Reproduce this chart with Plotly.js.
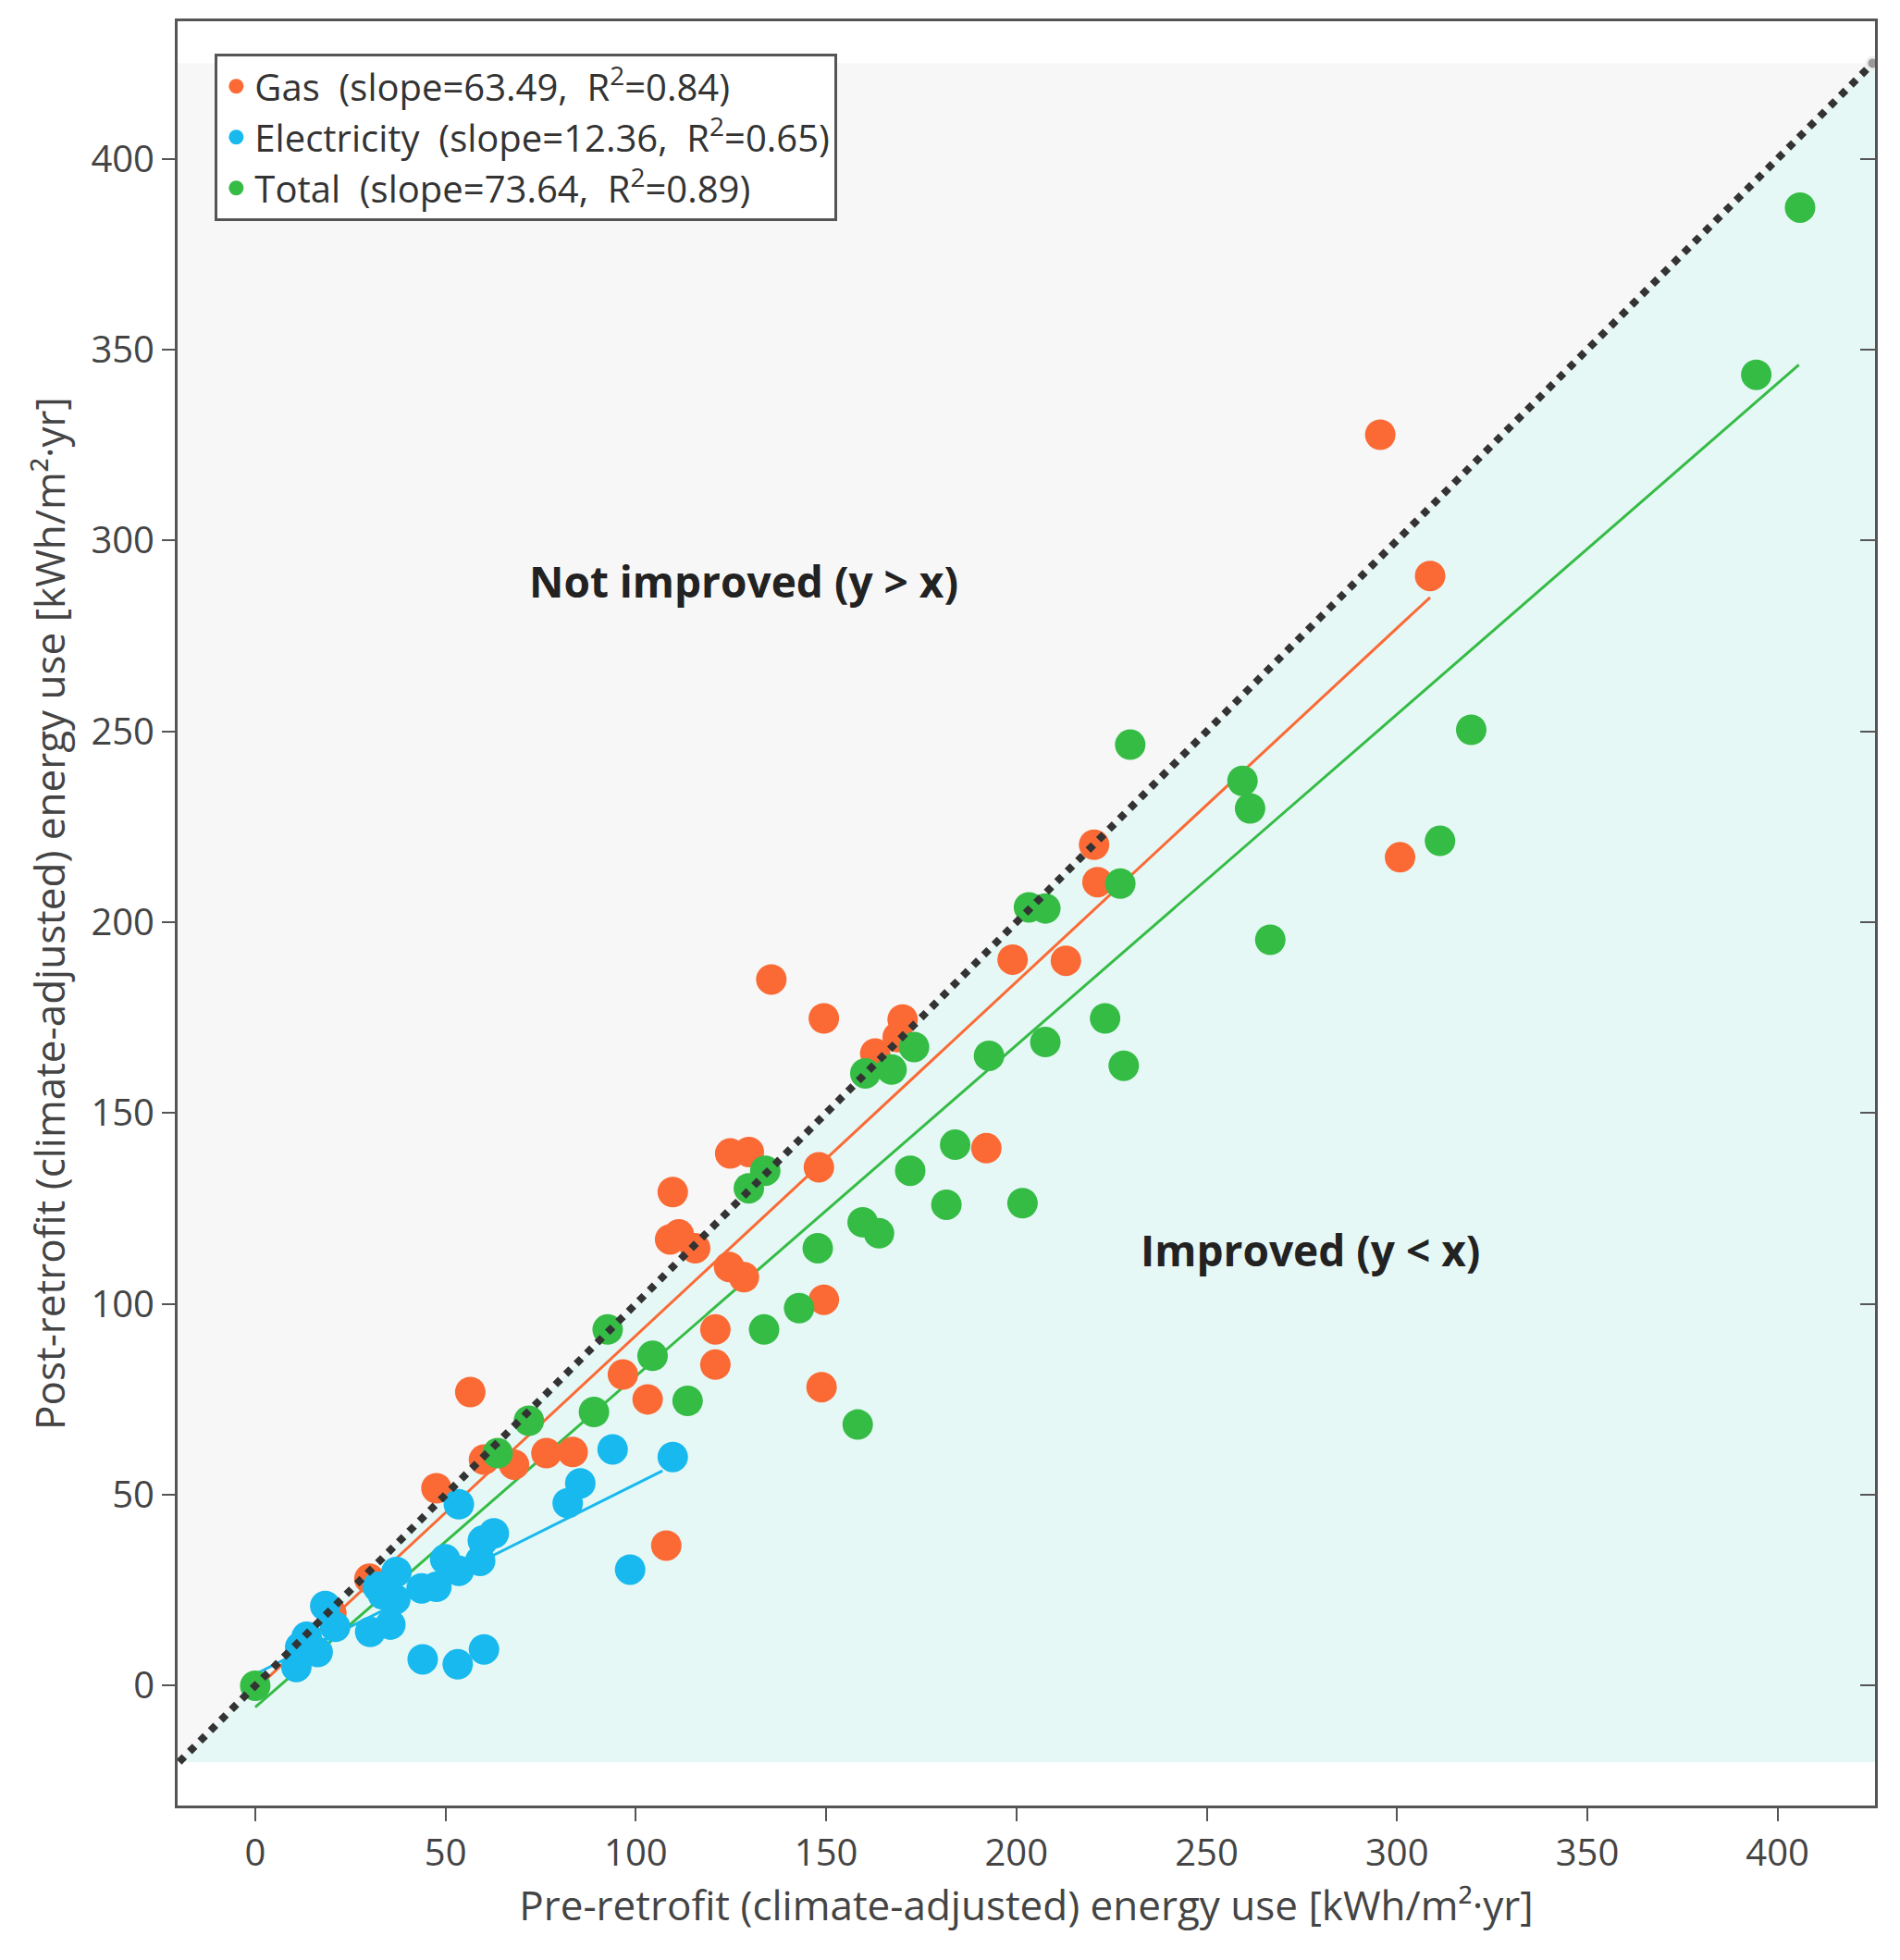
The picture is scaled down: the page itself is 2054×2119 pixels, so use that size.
<!DOCTYPE html>
<html>
<head>
<meta charset="utf-8">
<script src="https://cdn.plot.ly/plotly-3.0.1.min.js"></script>
<style>body{margin:0;background:#fff}#chart{width:2054px;height:2119px}</style>
</head>
<body>
<div id="chart"></div>
<script>
// gas points (pre, post)
let gas_x = [295.6, 308.7, 300.8, 220.4, 221.3, 199, 213, 135.6, 149.4, 170.1, 162.9, 168.8, 192.1, 124.8, 129.7, 148.1, 109.7, 109, 111.3, 115.6, 124.5, 128.4, 149.4, 120.9, 120.9, 96.6, 103.1, 148.8, 56.5, 60.1, 68, 76.5, 83.4, 47.6, 108, 30, 20];
let gas_y = [327.7, 290.7, 217, 220.3, 210.5, 190.2, 189.9, 185, 174.8, 174.5, 165.6, 169.9, 140.8, 139.4, 139.8, 135.8, 129.3, 116.9, 118.2, 114.6, 109.7, 107, 101.1, 93.3, 84.1, 81.5, 75, 78.2, 76.9, 59.2, 57.9, 60.9, 61.2, 51.7, 36.7, 28, 19];
let elec_x = [93.9, 109.7, 85.4, 82.1, 53.5, 62.7, 59.8, 59.1, 53.5, 49.9, 47.6, 43.7, 37.1, 36.8, 33.5, 32.2, 35.5, 30.2, 18.4, 21, 16.4, 11.8, 10.8, 44, 53.2, 60.1, 98.5, 13.5];
let elec_y = [61.9, 59.9, 53, 47.8, 47.5, 39.9, 38, 32.7, 30.1, 33.1, 25.9, 25.5, 29.8, 22.6, 23.9, 25.9, 16, 14.1, 20.9, 15.4, 8.8, 10.1, 4.9, 6.9, 5.6, 9.5, 30.4, 12.8];
let total_x = [405.9, 394.4, 319.5, 229.9, 259.4, 261.4, 311.3, 266.7, 227.3, 203.3, 207.6, 173.1, 167.2, 160.3, 192.8, 207.6, 223.3, 228.2, 183.9, 172.1, 181.6, 201.6, 134, 129.7, 159.6, 163.9, 147.8, 142.9, 133.7, 92.6, 104.4, 113.6, 89, 158.3, 71.9, 63.7, 0];
let total_y = [387.2, 343.4, 250.4, 246.5, 237, 229.8, 221.3, 195.4, 210.1, 203.9, 203.6, 167.3, 161.4, 160.4, 165, 168.6, 174.8, 162.4, 141.7, 134.9, 126, 126.4, 134.9, 130.3, 121.4, 118.5, 114.6, 98.9, 93.3, 93.3, 86.4, 74.6, 71.7, 68.4, 69.4, 60.9, 0];
// fit line end points
let gas_fit = {x: [0, 308.7], y: [-1, 285.1]};
let elec_fit = {x: [0, 107], y: [3, 56.3]};
let total_fit = {x: [0, 405.6], y: [-5.6, 346]};
let tick_vals = [0, 50, 100, 150, 200, 250, 300, 350, 400];

let c_gas = "#fb6a35", c_elec = "#17b9ee", c_total = "#35bc45";
let lo = -20, hi = 425;
let yr = [-31.4, 436];

let data = [
    {x: gas_fit.x, y: gas_fit.y, mode: "lines", line: {color: c_gas, width: 3}, showlegend: false, hoverinfo: "skip"},
    {x: elec_fit.x, y: elec_fit.y, mode: "lines", line: {color: c_elec, width: 3}, showlegend: false, hoverinfo: "skip"},
    {x: total_fit.x, y: total_fit.y, mode: "lines", line: {color: c_total, width: 3}, showlegend: false, hoverinfo: "skip"},
    {x: gas_x, y: gas_y, mode: "markers", type: "scatter", name: "Gas  (slope=63.49,  R<sup>2</sup>=0.84)", marker: {color: c_gas, size: 33}},
    {x: elec_x, y: elec_y, mode: "markers", type: "scatter", name: "Electricity  (slope=12.36,  R<sup>2</sup>=0.65)", marker: {color: c_elec, size: 33}},
    {x: total_x, y: total_y, mode: "markers", type: "scatter", name: "Total  (slope=73.64,  R<sup>2</sup>=0.89)", marker: {color: c_total, size: 33}},
    {x: [lo, hi], y: [lo, hi], mode: "lines", line: {color: "#333", width: 8, dash: "dot"}, showlegend: false, hoverinfo: "skip"},
    {x: [hi], y: [hi], mode: "markers", marker: {color: "#999", size: 13, line: {color: "#eee", width: 3}}, showlegend: false, hoverinfo: "skip"},
    // carries the inward ticks on the right side
    {x: [hi], y: [hi], yaxis: "y2", mode: "markers", marker: {opacity: 0}, showlegend: false, hoverinfo: "skip"}
];

let axis_font = {family: "Open Sans, Liberation Sans, sans-serif", size: 40, color: "#444"};
let layout = {
    width: 2054, height: 2119,
    margin: {l: 192, r: 27, t: 23, b: 167},
    paper_bgcolor: "#fff", plot_bgcolor: "#fff",
    font: {family: "Open Sans, Liberation Sans, sans-serif", color: "#333"},
    showlegend: true,
    legend: {x: 0.022, y: 0.982, xanchor: "left", yanchor: "top", bgcolor: "#fff", bordercolor: "#555", borderwidth: 3,
        font: {size: 40, color: "#333"}, itemsizing: "trace", tracegroupgap: 0},
    xaxis: {range: [-20.4, 425.6], tickvals: tick_vals, showgrid: false, zeroline: false,
        ticks: "outside", ticklen: 14, tickwidth: 2, tickcolor: "#555", mirror: true, showline: true, linecolor: "#555", linewidth: 3,
        tickfont: axis_font, title: {text: "Pre-retrofit (climate-adjusted) energy use [kWh/m²·yr]", font: {size: 44, color: "#444"}, standoff: 14}},
    yaxis: {range: yr, tickvals: tick_vals, showgrid: false, zeroline: false,
        ticks: "outside", ticklen: 14, tickwidth: 2, tickcolor: "#555", mirror: true, showline: true, linecolor: "#555", linewidth: 3,
        tickfont: axis_font, title: {text: "Post-retrofit (climate-adjusted) energy use [kWh/m²·yr]", font: {size: 44, color: "#444"}, standoff: 14}},
    yaxis2: {range: yr, tickvals: tick_vals, overlaying: "y", side: "right", showgrid: false, zeroline: false, showticklabels: false,
        ticks: "inside", ticklen: 16, tickwidth: 2, tickcolor: "#555", showline: false},
    shapes: [
        {type: "rect", xref: "paper", x0: 0, x1: 1, yref: "y", y0: lo, y1: hi, fillcolor: "#f7f7f7", line: {width: 0}, layer: "below"},
        {type: "path", path: "M " + lo + "," + lo + " L " + hi + "," + hi + " L 425.6," + hi + " L 425.6," + lo + " Z", fillcolor: "#e6f8f6", line: {width: 0}, layer: "below"}
    ],
    annotations: [
        {x: 128.4, y: 289.4, text: "<b>Not improved (y > x)</b>", showarrow: false, font: {size: 46, color: "#222"}},
        {x: 277.2, y: 114.2, text: "<b>Improved (y < x)</b>", showarrow: false, font: {size: 46, color: "#222"}}
    ]
};

Plotly.newPlot("chart", data, layout, {displayModeBar: false});
</script>
</body>
</html>
